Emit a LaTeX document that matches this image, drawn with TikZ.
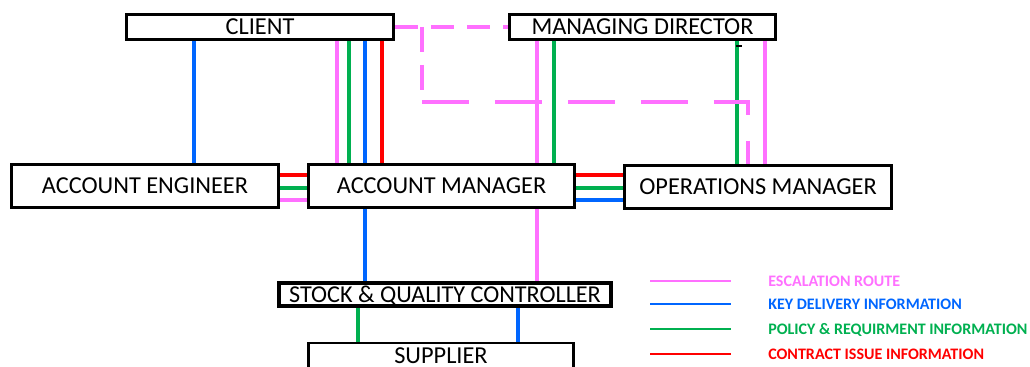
\documentclass[tikz,border=0pt]{standalone}
\usepackage{fontspec}
\setmainfont{Carlito}
\definecolor{escal}{HTML}{FF70FF}
\definecolor{deliv}{HTML}{0066FF}
\definecolor{policy}{HTML}{00B050}
\definecolor{contract}{HTML}{FF0000}
\tikzset{
  box/.style={draw, line width=2.1pt, inner sep=0pt, text depth=0pt,
    font=\fontsize{17.3}{20}\selectfont},
  link/.style={line width=2.4pt},
  legend/.style={inner sep=0pt, text depth=0pt, anchor=west,
    font=\fontsize{11.4}{13}\selectfont\bfseries},
}
\begin{document}
\begin{tikzpicture}[x=0.025cm, y=-0.025cm]
    \useasboundingbox (0,0) rectangle (1030,367);
    % people
    \node[box, minimum width=6.675cm, minimum height=0.625cm] (client) at (260,27) {CLIENT};
    \node[box, minimum width=6.65cm, minimum height=0.625cm] (md) at (642.5,27) {MANAGING DIRECTOR};
    \node[box, minimum width=6.675cm, minimum height=1.075cm] (ae) at (145,186) {ACCOUNT ENGINEER};
    \node[box, minimum width=6.65cm, minimum height=1.075cm] (am) at (441.5,186) {ACCOUNT MANAGER};
    \node[box, minimum width=6.675cm, minimum height=1.075cm] (om) at (758,187) {OPERATIONS MANAGER};
    \node[box, line width=3pt, minimum width=8.3cm, minimum height=0.575cm,
      font=\fontsize{17.2}{18}\selectfont] (sqc) at (445,294.5) {STOCK \& QUALITY CONTROLLER};
    \node[box, text depth=3pt, minimum width=6.625cm, minimum height=0.75cm] (sup) at (441,358) {SUPPLIER};
    % client links
    \draw[link, deliv] (client.south -| 194,0) -- (ae.north -| 194,0);
    \draw[link, escal] (client.south -| 337,0) -- (am.north -| 337,0);
    \draw[link, policy] (client.south -| 349,0) -- (am.north -| 349,0);
    \draw[link, deliv] (client.south -| 365,0) -- (am.north -| 365,0);
    \draw[link, contract] (client.south -| 382,0) -- (am.north -| 382,0);
    % managing director links
    \draw[link, escal] (md.south -| 537,0) -- (am.north -| 537,0);
    \draw[link, policy] (md.south -| 554,0) -- (am.north -| 554,0);
    \draw[link, policy] (md.south -| 737,0) -- (om.north -| 737,0);
    \draw[link, escal] (md.south -| 765,0) -- (om.north -| 765,0);
    \draw[line width=0.8pt] (736,46) -- (742,46);
    % side links
    \draw[link, contract] (ae.east |- 0,175) -- (am.west |- 0,175);
    \draw[link, policy] (ae.east |- 0,188) -- (am.west |- 0,188);
    \draw[link, escal] (ae.east |- 0,200) -- (am.west |- 0,200);
    \draw[link, contract] (am.east |- 0,175) -- (om.west |- 0,175);
    \draw[link, policy] (am.east |- 0,188) -- (om.west |- 0,188);
    \draw[link, deliv] (am.east |- 0,200) -- (om.west |- 0,200);
    % down to stock and supplier
    \draw[link, deliv] (am.south -| 365,0) -- (sqc.north -| 365,0);
    \draw[link, escal] (am.south -| 537,0) -- (sqc.north -| 537,0);
    \draw[link, policy] (sqc.south -| 358,0) -- (sup.north -| 358,0);
    \draw[link, deliv] (sqc.south -| 518,0) -- (sup.north -| 518,0);
    % dashed escalation route
    \coordinate (split) at (422,27);
    \coordinate (bend1) at (422,102);
    \coordinate (bend2) at (748,102);
    \draw[link, escal, dash pattern=on 16.4pt off 9.2pt] (client.east) -- (md.west);
    \draw[link, escal, dash pattern=on 17.8pt off 9.2pt] (split) -- (bend1);
    \draw[link, escal, dash pattern=on 33.4pt off 18.5pt] (bend1) -- (bend2) -- (om.north -| bend2);
    % key
    \foreach \ly/\lc/\lt [count=\i] in {281/escal/ESCALATION ROUTE,
        304/deliv/KEY DELIVERY INFORMATION,
        329/policy/POLICY \& REQUIRMENT INFORMATION,
        354/contract/CONTRACT ISSUE INFORMATION} {
      \coordinate (key\i) at (650,\ly);
      \coordinate (keyend\i) at (731,\ly);
      \draw[line width=1.4pt, \lc] (key\i) -- (keyend\i);
      \node[legend, text=\lc] (keytext\i) at (768,\ly) {\lt};
    }
\end{tikzpicture}
\end{document}
